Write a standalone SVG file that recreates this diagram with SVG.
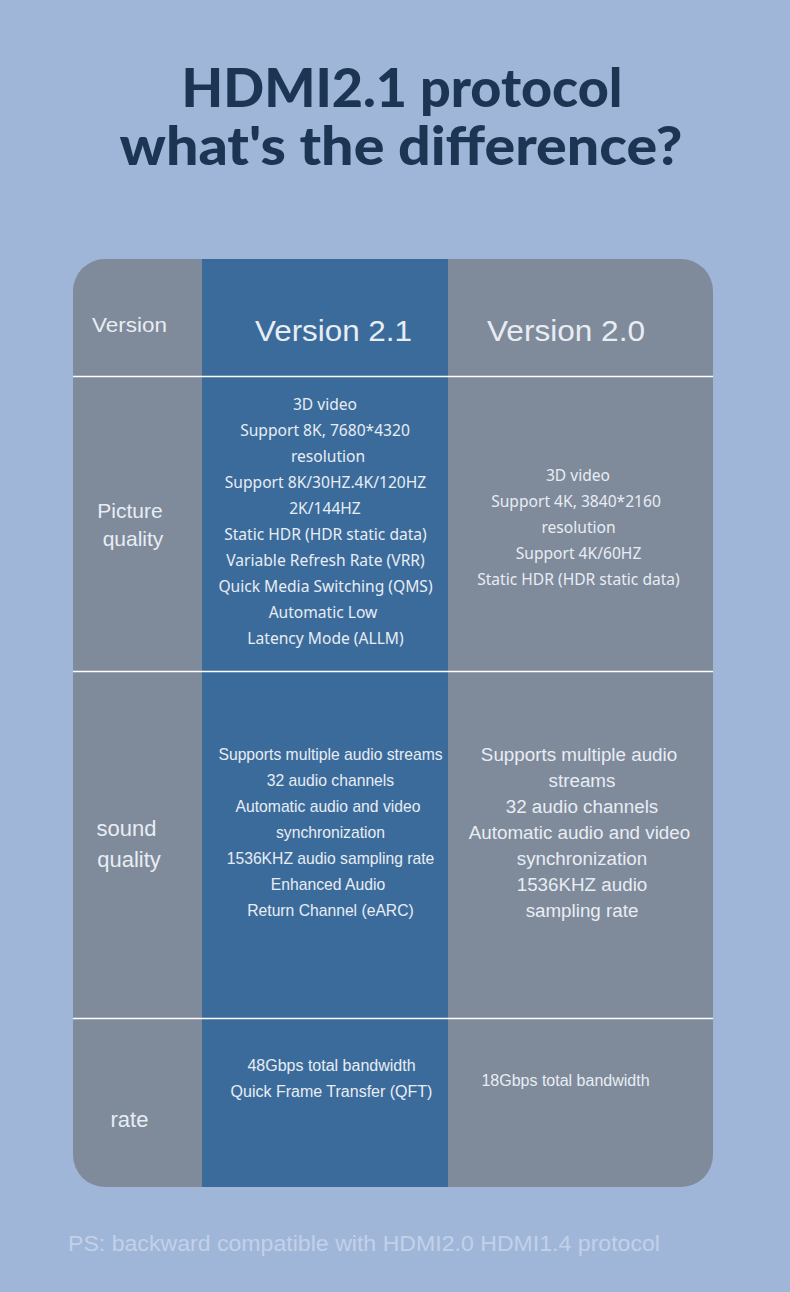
<svg xmlns="http://www.w3.org/2000/svg" width="790" height="1292" viewBox="0 0 790 1292">
<defs>
<style>
.title{font-family:"Lato","Noto Sans",sans-serif;font-weight:900;font-size:53px;fill:#1b3552;text-anchor:middle}
.t{font-family:"Liberation Sans",Arial,sans-serif;fill:#e8edf4;text-anchor:middle}
.n{font-family:"Noto Sans","Open Sans",sans-serif;font-size:15.6px}
.s15{font-size:15.7px}
.s16{font-size:16px}
.s18{font-size:18.8px}
.lab{font-size:21px}
.hd{font-size:30px}
.ps{font-family:"Liberation Sans",Arial,sans-serif;font-size:22px;fill:#c2d1e9}
</style>
<clipPath id="card"><rect x="73" y="259" width="640" height="928" rx="32" ry="32"/></clipPath>
</defs>
<rect width="790" height="1292" fill="#a0b6d8"/>
<g id="title">
<text class="title" x="402" y="107" textLength="441" lengthAdjust="spacingAndGlyphs">HDMI2.1 protocol</text>
<text class="title" x="401" y="165" textLength="563" lengthAdjust="spacingAndGlyphs">what's the difference?</text>
</g>
<g id="table" clip-path="url(#card)">
<rect x="73" y="259" width="640" height="928" fill="#7f8a9b"/>
<rect x="202" y="259" width="246" height="928" fill="#3b6b9b"/>
</g>
<g id="connectors" stroke="#ffffff" stroke-width="1.5">
<line x1="73" y1="376.5" x2="713" y2="376.5"/>
<line x1="73" y1="671.5" x2="713" y2="671.5"/>
<line x1="73" y1="1018.5" x2="713" y2="1018.5"/>
</g>
<g id="header">
<text class="t lab" x="129.5" y="332" textLength="75" lengthAdjust="spacingAndGlyphs">Version</text>
<text class="t hd" x="333.5" y="341" textLength="157" lengthAdjust="spacingAndGlyphs">Version 2.1</text>
<text class="t hd" x="566" y="341" textLength="158" lengthAdjust="spacingAndGlyphs">Version 2.0</text>
</g>
<g id="picture-quality">
<text class="t lab" x="130" y="518">Picture</text>
<text class="t lab" x="133" y="546">quality</text>
<g class="t n">
<text x="325" y="409.5">3D video</text>
<text x="325" y="435.5">Support 8K, 7680*4320</text>
<text x="328" y="461.5">resolution</text>
<text x="325.5" y="487.5">Support 8K/30HZ.4K/120HZ</text>
<text x="325" y="513.5">2K/144HZ</text>
<text x="325.5" y="539.5">Static HDR (HDR static data)</text>
<text x="325.5" y="565.5">Variable Refresh Rate (VRR)</text>
<text x="325.5" y="591.5">Quick Media Switching (QMS)</text>
<text x="323" y="617.5">Automatic Low</text>
<text x="325.5" y="643.5">Latency Mode (ALLM)</text>
</g>
<g class="t n">
<text x="578" y="480.5">3D video</text>
<text x="576" y="506.5">Support 4K, 3840*2160</text>
<text x="578.5" y="532.5">resolution</text>
<text x="578.5" y="558.5">Support 4K/60HZ</text>
<text x="578.5" y="584.5">Static HDR (HDR static data)</text>
</g>
</g>
<g id="sound-quality">
<text class="t lab" x="126.5" y="836" style="font-size:22px">sound</text>
<text class="t lab" x="129" y="867" style="font-size:22px">quality</text>
<g class="t s15">
<text x="330.5" y="760">Supports multiple audio streams</text>
<text x="330.5" y="786">32 audio channels</text>
<text x="328" y="812">Automatic audio and video</text>
<text x="330.5" y="838">synchronization</text>
<text x="330.5" y="864">1536KHZ audio sampling rate</text>
<text x="328" y="890">Enhanced Audio</text>
<text x="330.5" y="916">Return Channel (eARC)</text>
</g>
<g class="t s18">
<text x="579" y="761">Supports multiple audio</text>
<text x="582" y="787">streams</text>
<text x="582" y="813">32 audio channels</text>
<text x="579.5" y="839">Automatic audio and video</text>
<text x="582" y="865">synchronization</text>
<text x="582" y="891">1536KHZ audio</text>
<text x="582" y="917">sampling rate</text>
</g>
</g>
<g id="rate">
<text class="t lab" x="129.5" y="1127" style="font-size:22px">rate</text>
<g class="t s16">
<text x="331.5" y="1071">48Gbps total bandwidth</text>
<text x="331.5" y="1097">Quick Frame Transfer (QFT)</text>
<text x="565.5" y="1086">18Gbps total bandwidth</text>
</g>
</g>
<g id="footnote">
<text class="ps" x="68" y="1251" textLength="592" lengthAdjust="spacingAndGlyphs">PS: backward compatible with HDMI2.0 HDMI1.4 protocol</text>
</g>
</svg>
